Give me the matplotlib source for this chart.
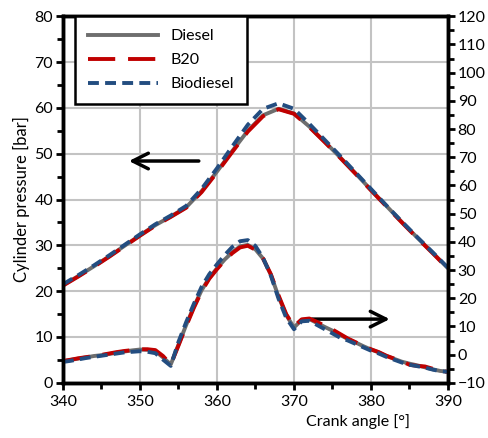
import matplotlib
matplotlib.use('Agg')
import matplotlib.pyplot as plt
from matplotlib.ticker import MultipleLocator

plt.rcParams['font.family'] = ['Lato', 'DejaVu Sans']

# cylinder pressure [bar], left axis
angle_p = [340, 342, 344, 346, 348, 350, 352, 354, 356, 358, 360, 362, 364,
           366, 368, 370, 372, 374, 376, 378, 380, 382, 384, 386, 388, 390]
p_diesel = [21.3, 23.3, 25.4, 27.6, 29.9, 32.2, 34.4, 36.3, 38.3, 41.8, 46.1, 50.6, 55.0,
            58.4, 59.8, 58.8, 55.9, 52.6, 49.2, 45.7, 42.1, 38.6, 35.1, 31.7, 28.4, 25.0]
p_b20 = [21.2, 23.2, 25.3, 27.5, 29.8, 32.1, 34.3, 36.2, 38.2, 41.6, 45.9, 50.4, 54.8,
         58.2, 59.7, 58.7, 55.8, 52.5, 49.1, 45.6, 42.0, 38.5, 35.0, 31.6, 28.3, 24.9]
p_bio = [21.5, 23.5, 25.6, 27.8, 30.1, 32.4, 34.6, 36.5, 38.6, 42.3, 46.8, 51.6, 56.3,
         59.8, 61.0, 59.8, 56.5, 53.0, 49.5, 45.9, 42.3, 38.7, 35.2, 31.8, 28.5, 25.1]

# heat release, right axis
angle_h = list(range(340, 391))
h_diesel = [-2.3, -1.9, -1.4, -1.0, -0.5, -0.2, 0.2, 0.7, 1.1, 1.5,
            1.8, 1.7, 1.2, -1.0, -3.5, 3.5, 10.5, 17.0, 22.8, 27.2,
            30.6, 33.7, 36.3, 38.4, 38.9, 37.3, 34.0, 28.3, 20.5, 14.0,
            9.6, 12.3, 12.6, 11.2, 9.8, 8.5, 7.0, 5.5, 4.3, 3.0,
            1.8, 0.8, -0.5, -1.5, -2.5, -3.2, -3.8, -4.5, -5.2, -5.8,
            -6.0]
h_b20 = [-2.3, -1.8, -1.3, -0.9, -0.5, -0.1, 0.4, 0.9, 1.3, 1.6,
         1.9, 1.9, 1.6, -0.5, -3.5, 3.2, 10.1, 16.6, 22.4, 26.9,
         30.3, 33.4, 36.0, 38.0, 38.6, 37.2, 34.0, 28.5, 21.0, 14.3,
         10.0, 12.5, 12.8, 11.6, 10.2, 8.9, 7.3, 5.7, 4.4, 3.1,
         1.9, 0.9, -0.4, -1.4, -2.4, -3.6, -4.0, -4.2, -5.0, -5.9,
         -6.1]
h_bio = [-2.6, -2.2, -1.7, -1.2, -0.8, -0.4, 0.0, 0.4, 0.8, 1.0,
         1.2, 1.0, 0.5, -1.8, -4.0, 4.5, 11.5, 18.0, 24.0, 28.5,
         32.0, 35.3, 38.2, 40.2, 40.6, 38.5, 34.2, 28.0, 19.8, 13.0,
         9.0, 11.8, 12.0, 10.5, 9.0, 7.5, 6.0, 5.0, 3.8, 2.6,
         1.4, 0.4, -0.8, -1.8, -2.8, -3.6, -4.1, -4.6, -5.3, -5.9,
         -6.1]

gray = '#6e6e6e'
red = '#c00000'
blue = '#234d80'

fig, ax = plt.subplots(figsize=(4.88, 4.38), dpi=100)
fig.subplots_adjust(left=0.129, right=0.918, top=0.963, bottom=0.126)
ax2 = ax.twinx()

l1, = ax.plot(angle_p, p_diesel, color=gray, lw=2.8, label='Diesel')
l2, = ax.plot(angle_p, p_b20, color=red, lw=2.8, dashes=(7, 3.3), label='B20')
l3, = ax.plot(angle_p, p_bio, color=blue, lw=2.8, dashes=(2.8, 1.6), label='Biodiesel')

ax2.plot(angle_h, h_diesel, color=gray, lw=2.8)
ax2.plot(angle_h, h_b20, color=red, lw=2.8, dashes=(7, 3.3))
ax2.plot(angle_h, h_bio, color=blue, lw=2.8, dashes=(2.8, 1.6))

ax.set_xlim(340, 390)
ax.set_ylim(0, 80)
ax2.set_ylim(-10, 120)

ax.xaxis.set_major_locator(MultipleLocator(10))
ax.xaxis.set_minor_locator(MultipleLocator(5))
ax.yaxis.set_major_locator(MultipleLocator(10))
ax.yaxis.set_minor_locator(MultipleLocator(5))
ax2.yaxis.set_major_locator(MultipleLocator(10))
ax2.yaxis.set_minor_locator(MultipleLocator(5))

ax.grid(True, which='major', color='#c3c3c3', lw=1.5)
ax.set_axisbelow(True)

for a in (ax, ax2):
    for s in a.spines.values():
        s.set_linewidth(2.5)
    a.tick_params(which='major', direction='out', length=5, width=2, labelsize=11.5, pad=2)
    a.tick_params(which='minor', direction='out', length=4, width=2)
ax.tick_params(axis='x', pad=4)

ax.set_ylabel('Cylinder pressure [bar]', fontsize=12, labelpad=3)
ax.set_xlabel('Crank angle [°]', fontsize=11.5, labelpad=1)
ax.xaxis.set_label_coords(0.766, -0.085)

# direction arrows
ax.annotate('', xy=(348.2, 48.4), xytext=(358, 48.4),
            arrowprops=dict(arrowstyle='->', color='black', lw=2.5, mutation_scale=28))
ax.annotate('', xy=(382.8, 13.9), xytext=(372, 13.9),
            arrowprops=dict(arrowstyle='->', color='black', lw=2.5, mutation_scale=28))

leg = ax2.legend([l1, l2, l3], ['Diesel', 'B20', 'Biodiesel'], loc='upper left',
                 bbox_to_anchor=(0.031, 1.0), fancybox=False, framealpha=1,
                 edgecolor='black', fontsize=11.5, handlelength=4.4,
                 handletextpad=0.8, borderpad=0.8, labelspacing=0.62, borderaxespad=0)
leg.get_frame().set_linewidth(1.8)

fig.savefig('out.png', dpi=100)
